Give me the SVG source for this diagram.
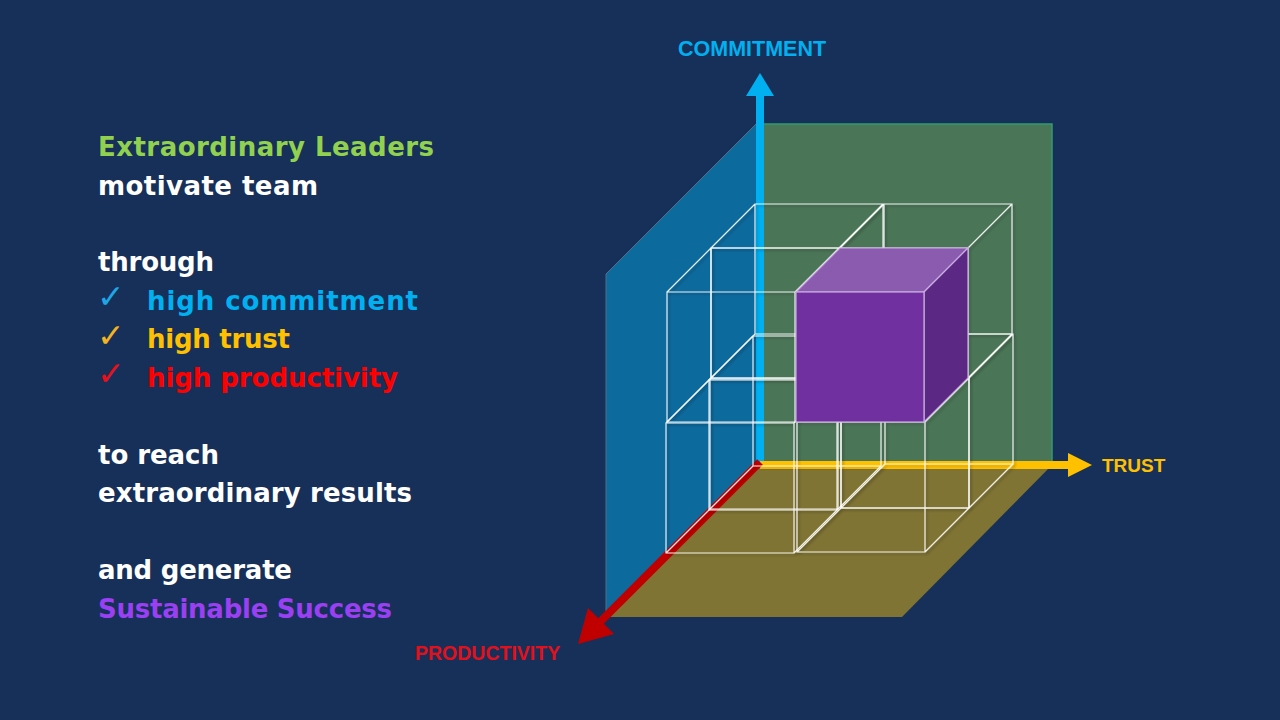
<svg xmlns="http://www.w3.org/2000/svg" xmlns:xlink="http://www.w3.org/1999/xlink" width="1280" height="720" viewBox="0 0 1280 720">
<defs>
<style>
.lt{font-family:"DejaVu Sans","Liberation Sans",sans-serif;font-weight:700;font-size:26px}
.ax{font-family:"Liberation Sans",Arial,sans-serif;font-weight:700}
.ck{font-family:"DejaVu Sans",sans-serif;font-size:33px}
.wf{fill:none;stroke:#ffffff;stroke-opacity:0.9;stroke-width:1.2}
</style>
<filter id="sh" x="-10%" y="-10%" width="120%" height="120%">
<feDropShadow dx="2" dy="2" stdDeviation="1" flood-color="#000" flood-opacity="0.25"/>
</filter>
<path id="cube" d="M0 0h128v130H0z M44 -44h128v130H44z M0 0l44 -44 M128 0l44 -44 M128 130l44 -44 M0 130l44 -44"/>
</defs>
<rect width="1280" height="720" fill="#163059"/>

<g id="text-block">
<text class="lt" x="98" y="156" fill="#92d050" textLength="336">Extraordinary Leaders</text>
<text class="lt" x="98" y="194.5" fill="#ffffff" textLength="220">motivate team</text>
<text class="lt" x="98" y="271" fill="#ffffff" textLength="116">through</text>
<text class="ck" x="97" y="308" fill="#1ea6e6">✓</text>
<text class="lt" x="147" y="309.5" fill="#00b0f0" textLength="271">high commitment</text>
<text class="ck" x="97" y="346.5" fill="#f5b41e">✓</text>
<text class="lt" x="147" y="348" fill="#ffc000" textLength="143">high trust</text>
<text class="ck" x="97" y="385" fill="#e8101a">✓</text>
<text class="lt" x="147" y="386.5" fill="#ff0000" textLength="251">high productivity</text>
<text class="lt" x="98" y="463.5" fill="#ffffff" textLength="121">to reach</text>
<text class="lt" x="98" y="502" fill="#ffffff" textLength="314">extraordinary results</text>
<text class="lt" x="98" y="579" fill="#ffffff" textLength="194">and generate</text>
<text class="lt" x="98" y="617.5" fill="#9a3ff2" textLength="294">Sustainable Success</text>
</g>

<g id="planes">
<polygon id="plane-commitment" points="606,274 757,123 757,464 606,617" fill="#0d6a9d" stroke="#4d6f8a" stroke-width="1"/>
<polygon id="plane-trust" points="760,124 1052,124 1052,464 760,464" fill="#4b7557"/>
<polyline points="760,124 1052,124 1052,464" fill="none" stroke="#2f9c6e" stroke-width="1.5"/>
<polygon id="plane-floor" points="760,464 1053,464 902,617 606,617" fill="#7f7434"/>
</g>

<g id="connectors">
<g id="axis-commitment">
<rect x="756" y="95" width="8" height="370" fill="#00b0f0"/>
<polygon points="746,96 774,96 760,73" fill="#00b0f0"/>
</g>
<g id="axis-trust">
<rect x="760" y="461" width="309" height="8" fill="#ffc000"/>
<polygon points="1068,453 1068,477 1092,465" fill="#ffc000"/>
</g>
<g id="axis-productivity">
<line x1="760" y1="462" x2="596" y2="626" stroke="#c00000" stroke-width="8"/>
<polygon points="578,644 588,608 614,634" fill="#c00000"/>
</g>
</g>

<g id="cubes" filter="url(#sh)">
<use id="cube-back-upper-left" class="wf" href="#cube" x="711" y="248"/>
<use id="cube-back-upper-right" class="wf" href="#cube" x="840" y="248"/>
<use id="cube-back-lower-left" class="wf" href="#cube" x="709" y="380"/>
<use id="cube-back-lower-right" class="wf" href="#cube" x="841" y="378"/>
<use id="cube-front-upper-left" class="wf" href="#cube" x="667" y="292"/>
<use id="cube-front-lower-left" class="wf" href="#cube" x="666" y="423"/>
<use id="cube-front-lower-right" class="wf" href="#cube" x="797" y="422"/>
</g>

<g id="cube-success">
<polygon points="796,292 840,248 968,248 924,292" fill="#8b5bb0" stroke="#c9aee0" stroke-width="1.2"/>
<polygon points="924,292 968,248 968,378 924,422" fill="#5b2883" stroke="#c9aee0" stroke-width="1.2"/>
<rect x="796" y="292" width="128" height="130" fill="#7030a0" stroke="#c9aee0" stroke-width="1.2"/>
</g>

<g id="labels">
<text class="ax" x="678" y="56" font-size="21.5" fill="#00b0f0">COMMITMENT</text>
<text class="ax" x="1102" y="472" font-size="19" fill="#ffc000">TRUST</text>
<text class="ax" x="415" y="660" font-size="19.5" fill="#e3101c">PRODUCTIVITY</text>
</g>
</svg>
